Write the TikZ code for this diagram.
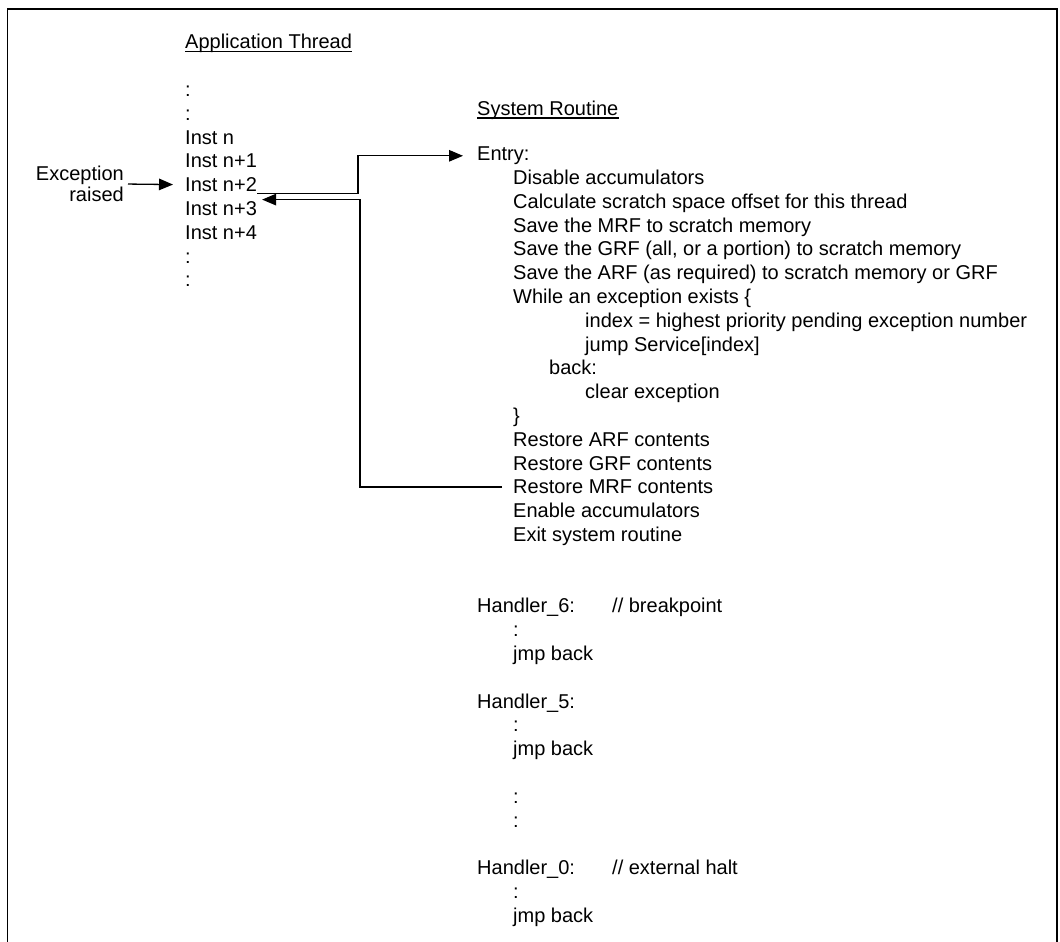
\documentclass[tikz,border=0pt]{standalone}
\usepackage{fontspec}
\setmainfont{Liberation Sans}
\usetikzlibrary{arrows.meta,positioning}
\tikzset{
  frame/.style={line width=1.7pt},
  code/.style={anchor=base west, inner sep=0pt, font=\fontsize{20}{21}\selectfont},
  uline/.style={line width=1.3pt},
  flow/.style={line width=1.3pt, -{Triangle[length=14pt,width=11.5pt]}},
}
\begin{document}
\begin{tikzpicture}[x=1pt,y=-1pt]
    \def\lh{23.8}
    \def\yL{48.8}
    \def\yR{160.6}
    \useasboundingbox (0,0) rectangle (1060,942);
    \draw[frame] (7.5,942) |- (1057,9) -- (1057,942);
    % application thread
    \node[code] (appTitle) at (185,\yL) {Application Thread};
    \draw[uline] ([yshift=-3pt]appTitle.base west) -- ([yshift=-3pt]appTitle.base east);
    \foreach \k/\t in {2/:, 3/:, 4/Inst n, 5/Inst n+1, 6/Inst n+2, 7/Inst n+3, 8/Inst n+4, 9/:, 10/:}
      \node[code] (lt\k) at (185,{\yL+\k*\lh}) {\t};
    \node[code, anchor=east, align=right] (exc) at (124,184) {Exception\\raised};
    % system routine
    \node[code] (sysTitle) at (477,{\yR-2*\lh+2}) {System Routine};
    \draw[uline] ([yshift=-3pt]sysTitle.base west) -- ([yshift=-3pt]sysTitle.base east);
    \foreach \k/\x/\t in {0/477/Entry:, 1/513/Disable accumulators,
        2/513/Calculate scratch space offset for this thread,
        3/513/Save the MRF to scratch memory,
        4/513/{Save the GRF (all, or a portion) to scratch memory},
        5/513/Save the ARF (as required) to scratch memory or GRF,
        6/513/{While an exception exists \{},
        7/585/index = highest priority pending exception number,
        8/585/{jump Service[index]}, 9/549/back:, 10/585/clear exception,
        11/513/{\}}, 12/513/Restore ARF contents, 13/513/Restore GRF contents,
        14/513/Restore MRF contents, 15/513/Enable accumulators,
        16/513/Exit system routine,
        19/477/Handler\_6:, 20/513/:, 21/513/jmp back,
        23/477/Handler\_5:, 24/513/:, 25/513/jmp back,
        27/513/:, 28/513/:,
        30/477/Handler\_0:, 31/513/:, 32/513/jmp back}
      \node[code] (sr\k) at (\x,{\yR+\k*\lh}) {\t};
    \node[code] (note6) at (612,{\yR+19*\lh}) {// breakpoint};
    \node[code] (note0) at (612,{\yR+30*\lh}) {// external halt};
    % connectors
    \draw[flow, shorten <=4pt, shorten >=12pt] (exc.east) -- (lt6.west);
    \draw[flow] ([yshift=-2pt]lt6.base east) -- ++(101,0) |- ([xshift=-14pt]sr0.west);
    \draw[flow] ([xshift=-11pt]sr14.west) -| ([xshift=103pt,yshift=-8pt]lt6.base east)
        -- ([xshift=5pt,yshift=-8pt]lt6.base east);
\end{tikzpicture}
\end{document}
